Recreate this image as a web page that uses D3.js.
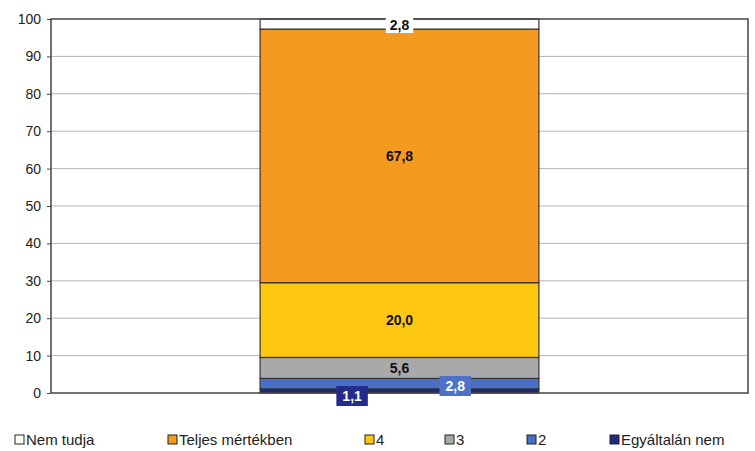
<!DOCTYPE html>
<html lang="hu">
<head>
<meta charset="UTF-8">
<title>stacked bar</title>
<script src="https://cdn.jsdelivr.net/npm/d3@7"></script>
<style>
  body { margin: 0; background: #fff; }
  svg { display: block; font-family: "Liberation Sans", Arial, sans-serif; }
  .axis text { font-size: 14px; fill: #222; }
</style>
</head>
<body>
<svg id="mainsvg" width="755" height="451"></svg>
<script>
// data (bottom to top)
const categories = ["Egyáltalán nem", "2", "3", "4", "Teljes mértékben", "Nem tudja"];
const values = [1.1, 2.8, 5.6, 20.0, 67.8, 2.8];
const labels = ["1,1", "2,8", "5,6", "20,0", "67,8", "2,8"];
const colors = ["#1e2a80", "#4a6fc4", "#a9a9a9", "#fdc80f", "#f39a1f", "#ffffff"];
const legendOrder = ["Nem tudja", "Teljes mértékben", "4", "3", "2", "Egyáltalán nem"];
const yTicks = [0, 10, 20, 30, 40, 50, 60, 70, 80, 90, 100];

const svg = d3.select('#mainsvg');
const margin = { top: 19, right: 7, bottom: 58, left: 51 };
const width = +svg.attr('width');
const height = +svg.attr('height');
const innerWidth = width - margin.left - margin.right;
const innerHeight = height - margin.top - margin.bottom;

const g = svg.append('g').attr('transform', `translate(${margin.left}, ${margin.top})`);

const yScale = d3.scaleLinear().domain([0, 100]).range([innerHeight, 0]);
const xScale = d3.scaleBand().domain(['a']).range([0, innerWidth]).paddingInner(0).paddingOuter(0.75);

// gridlines
g.selectAll('.grid').data(yTicks.slice(1, -1)).join('line')
  .attr('x1', 0).attr('x2', innerWidth)
  .attr('y1', d => yScale(d)).attr('y2', d => yScale(d))
  .attr('stroke', '#b5b5b5').attr('stroke-width', 1);

// stack
const row = {};
categories.forEach((c, i) => row[c] = values[i]);
const stack = d3.stack().keys(categories)([row]);
const color = d3.scaleOrdinal().domain(categories).range(colors);

const bx = xScale('a'), bw = xScale.bandwidth();
g.selectAll('.seg').data(stack).join('rect')
  .attr('x', bx).attr('width', bw)
  .attr('y', d => yScale(Math.min(d[0][1], 100)))
  .attr('height', d => yScale(d[0][0]) - yScale(Math.min(d[0][1], 100)))
  .attr('fill', d => color(d.key))
  .attr('stroke', '#333').attr('stroke-width', 1.2);

// frame
g.append('rect').attr('x', 0).attr('y', 0).attr('width', innerWidth).attr('height', innerHeight)
  .attr('fill', 'none').attr('stroke', '#444').attr('stroke-width', 1.5);

// y axis
const yAxis = d3.axisLeft(yScale).tickValues(yTicks).tickSize(4).tickPadding(6);
g.append('g').attr('class', 'axis').call(yAxis)
  .call(a => a.select('.domain').remove())
  .call(a => a.selectAll('.tick line').attr('stroke', '#444'));

// value labels
const cx = bx + bw / 2;
function boxLabel(x, y, text, bg, fg, padX, h) {
  const t = g.append('text').attr('x', x).attr('y', y + 5).attr('text-anchor', 'middle')
    .attr('font-size', 14).attr('font-weight', 'bold')
    .attr('fill', fg).text(text);
  if (bg) {
    const w = t.node().getComputedTextLength() + padX * 2;
    g.insert('rect', () => t.node()).attr('x', x - w / 2).attr('y', y - h / 2)
      .attr('width', w).attr('height', h).attr('fill', bg);
  }
}
stack.forEach((s, i) => {
  const mid = yScale((s[0][0] + Math.min(s[0][1], 100)) / 2);
  const key = s.key;
  if (key === 'Nem tudja') boxLabel(cx, mid + 1, labels[i], '#ffffff', '#111', 4, 16);
  else if (key === 'Egyáltalán nem') boxLabel(bx + bw * 0.33, innerHeight + 3, labels[i], '#232c8c', '#fff', 6, 20);
  else if (key === '2') boxLabel(bx + bw * 0.70, innerHeight - 7, labels[i], '#4d72c6', '#fff', 6, 20);
  else boxLabel(cx, mid, labels[i], null, '#111', 0, 0);
});

// legend
const legendX = [15, 168, 365, 445, 527, 610];
const lg = svg.append('g').attr('transform', `translate(0, ${height - 6})`);
legendOrder.forEach((k, i) => {
  const it = lg.append('g').attr('transform', `translate(${legendX[i]}, 0)`);
  it.append('rect').attr('x', 0).attr('y', -10).attr('width', 9).attr('height', 9)
    .attr('fill', color(k)).attr('stroke', '#222').attr('stroke-width', 1);
  it.append('text').attr('x', 11).attr('y', 0).attr('font-size', 15).attr('fill', '#222').text(k);
});
</script>
</body>
</html>
